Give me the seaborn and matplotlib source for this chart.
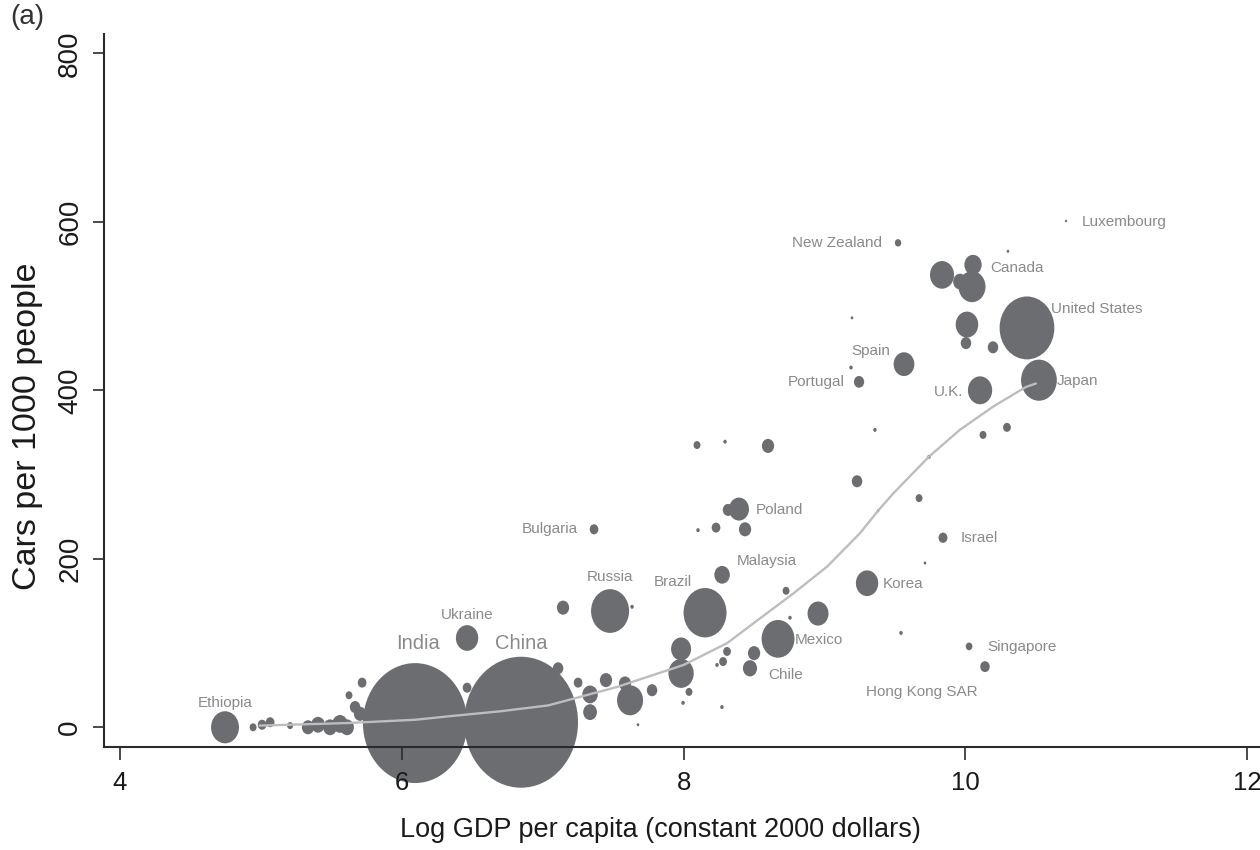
import numpy as np
import pandas as pd
import matplotlib
matplotlib.use("Agg")
import matplotlib.pyplot as plt
from matplotlib.path import Path
from matplotlib.transforms import Affine2D
import seaborn as sns

# ---------------------------------------------------------------------------
# Data: log GDP per capita, cars per 1000 people, population (millions)
# The first entries are the named countries, the rest are unnamed ones.
# ---------------------------------------------------------------------------
named = [
    "Ethiopia", "India", "China", "Ukraine", "Russia", "Bulgaria", "Brazil",
    "Malaysia", "Poland", "Mexico", "Chile", "Korea", "Israel", "Singapore",
    "Hong Kong SAR", "Spain", "Portugal", "U.K.", "Japan", "United States",
    "Canada", "New Zealand", "Luxembourg",
]
log_gdp = [
    4.745, 6.094, 6.846, 6.463, 7.478, 7.364, 8.152,
    8.273, 8.393, 8.670, 8.471, 9.302, 9.841, 10.026,
    10.139, 9.564, 9.245, 10.104, 10.522, 10.437,
    10.054, 9.522, 10.714,
    9.834, 10.047, 9.962, 10.011, 10.004, 10.196, 9.195, 9.188, 10.302,
    9.358, 10.125, 10.295, 9.231, 9.671, 9.742, 9.380, 9.713, 9.543,
    8.599, 8.095, 8.294, 8.436, 8.230, 8.102, 8.315, 8.727, 8.755,
    8.954, 8.500, 8.308, 8.280, 8.237, 7.982, 7.982, 8.038, 7.776,
    7.996, 8.272, 7.676, 7.144, 7.634, 7.109, 7.251, 7.336, 7.336,
    7.449, 7.620, 7.584, 6.463, 4.944, 5.008, 5.065, 5.207, 5.334,
    5.405, 5.490, 5.561, 5.611, 5.625, 5.718, 5.668, 5.703,
]
cars = [
    0, 5, 6, 106, 138, 235, 136,
    181, 259, 105, 70, 171, 225, 96,
    72, 431, 410, 400, 412, 474,
    549, 575, 601,
    537, 523, 529, 478, 456, 451, 486, 427, 565,
    353, 347, 356, 292, 272, 321, 257, 195, 112,
    334, 335, 339, 235, 237, 234, 258, 162, 130,
    135, 88, 90, 78, 74, 93, 64, 42, 44,
    29, 24, 3, 142, 143, 70, 53, 39, 18,
    56, 32, 52, 47, 0, 3, 6, 2, 0,
    3, 0, 4, 0, 38, 53, 24, 16,
]
population = [
    78, 1090, 1300, 50, 145, 7.6, 185,
    24, 40, 108, 20, 50, 8, 4.5,
    9, 43, 10.5, 59, 128, 300,
    30, 4.2, 0.5,
    58, 73, 19, 51, 11, 11, 0.7, 1.2, 0.7,
    1.2, 4.8, 6.1, 11, 4.8, 1.2, 0.7, 0.7, 1.2,
    15, 4.8, 1.2, 15, 7.6, 1.2, 11, 4.8, 1.2,
    44, 15, 6.1, 6.1, 1.2, 40, 64, 4.8, 11,
    1.2, 1.2, 0.7, 15, 1.2, 11, 7.6, 24, 19,
    15, 68, 15, 7.6, 4.8, 7.6, 7.6, 3.7, 15,
    19, 19, 24, 19, 4.8, 7.6, 11, 15,
]
country = named + [""] * (len(log_gdp) - len(named))

# Smoothed fit of car ownership against income
fit_gdp = [4.99, 5.61, 6.10, 6.33, 6.70, 7.04, 7.53, 8.00, 8.31, 8.50,
           8.78, 9.02, 9.25, 9.38, 9.49, 9.74, 9.96, 10.20, 10.43, 10.50]
fit_cars = [2, 5, 9, 13, 19, 26, 48, 74, 100, 124,
            159, 191, 230, 257, 278, 321, 353, 381, 404, 408]

# Label placement: offset (points) from the bubble centre, alignment, size
label_style = {
    "Ethiopia": (0, 17.5, "center", 11),
    "India": (2.2, 57.6, "center", 14.5),
    "China": (0.5, 57.0, "center", 14.5),
    "Ukraine": (0, 16.6, "center", 11),
    "Russia": (0, 24.5, "center", 11),
    "Bulgaria": (-11.5, 0, "right", 11),
    "Brazil": (-9.4, 22.0, "right", 11),
    "Malaysia": (10.8, 10.0, "left", 11),
    "Poland": (12.2, -1.0, "left", 11),
    "Mexico": (12.2, -1.0, "left", 11),
    "Chile": (13.5, -5.0, "left", 11),
    "Korea": (11.5, -0.5, "left", 11),
    "Israel": (12.7, 0, "left", 11),
    "Singapore": (13.0, -0.7, "left", 11),
    "Hong Kong SAR": (-5.0, -18.5, "right", 11),
    "Spain": (-10.0, 9.5, "right", 11),
    "Portugal": (-10.5, 0, "right", 11),
    "U.K.": (-12.2, -1.4, "right", 11),
    "Japan": (12.5, -0.7, "left", 11),
    "United States": (17.5, 13.5, "left", 11),
    "Canada": (12.2, -2.2, "left", 11),
    "New Zealand": (-11.5, 0, "right", 11),
    "Luxembourg": (11.5, -0.7, "left", 11),
}

# ---------------------------------------------------------------------------
# Style
# ---------------------------------------------------------------------------
sns.set_style("ticks")
plt.rcParams["font.family"] = ["Liberation Sans", "DejaVu Sans"]

W, H = 1260, 850
fig = plt.figure(figsize=(W / 100, H / 100), dpi=100)
fig.patch.set_facecolor("white")
ax = fig.add_axes([104 / W, 1 - 747 / H, 1156 / W, 713 / H])
ax.set_facecolor("white")

df = pd.DataFrame({
    "country": country,
    "log_gdp": log_gdp,
    "cars": cars,
    "population": population,
})

# Bubble area proportional to population; slightly upright oval markers
bubble = Path.unit_circle().transformed(Affine2D().scale(0.87, 1.0))
area_per_million = 6.84
pop_max = 1300

sns.scatterplot(
    data=df, x="log_gdp", y="cars", size="population",
    sizes=(0, area_per_million * pop_max), size_norm=(0, pop_max),
    marker=bubble, color="#6c6d71", edgecolor="none", linewidth=0,
    alpha=1, legend=False, clip_on=False, zorder=2, ax=ax,
)

sns.lineplot(x=fit_gdp, y=fit_cars, color="#bdbdbd", linewidth=1.7,
             zorder=3, ax=ax)

for name, gx, cy in zip(country, log_gdp, cars):
    if not name:
        continue
    dx, dy, ha, fs = label_style[name]
    ax.annotate(name, (gx, cy), xytext=(dx, dy), textcoords="offset points",
                ha=ha, va="center", fontsize=fs, color="#8a8a8a", zorder=4)

# ---------------------------------------------------------------------------
# Axes
# ---------------------------------------------------------------------------
ax.set_xlim(3.886, 12.091)
ax.set_ylim(-23.4, 822.9)
ax.set_xticks([4, 6, 8, 10, 12])
ax.set_yticks([0, 200, 400, 600, 800])

for side in ["top", "right"]:
    ax.spines[side].set_visible(False)
for side in ["left", "bottom"]:
    ax.spines[side].set_color("#2b2b2b")
    ax.spines[side].set_linewidth(1.5)
    ax.spines[side].set_zorder(5)

ax.tick_params(axis="x", length=9.5, width=1.2, pad=8, labelsize=18.5,
               color="#2b2b2b", labelcolor="#1a1a1a")
ax.tick_params(axis="y", length=8, width=1.2, pad=7, labelsize=20,
               color="#2b2b2b", labelcolor="#1a1a1a", labelrotation=90)
for lbl in ax.get_yticklabels():
    lbl.set_va("center")
ax.xaxis.set_zorder(5)
ax.yaxis.set_zorder(5)

ax.set_xlabel("Log GDP per capita (constant 2000 dollars)", fontsize=19.5,
              color="#1a1a1a")
ax.set_ylabel("Cars per 1000 people", fontsize=24.5, color="#1a1a1a")
ax.xaxis.set_label_coords(0.481, -0.098)
ax.yaxis.set_label_coords(-0.053, 0.45)

fig.text(10 / W, 1 - 4 / H, "(a)", fontsize=20, color="#333333",
         ha="left", va="top")

fig.savefig("out.png", dpi=100, facecolor="white")
